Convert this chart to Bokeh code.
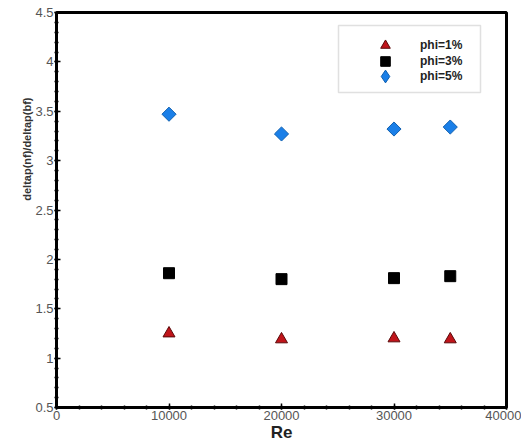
import math
from bokeh.plotting import figure
from bokeh.models import (Legend, LegendItem, SingleIntervalTicker, Title,
                          BoxAnnotation)
from bokeh.embed import file_html
from bokeh.resources import INLINE

# Reynolds numbers and pressure-drop ratios for each volume fraction
re_values = [10000, 20000, 30000, 35000]
phi1 = [1.25, 1.19, 1.20, 1.19]
phi3 = [1.86, 1.80, 1.81, 1.83]
phi5 = [3.47, 3.27, 3.32, 3.34]

series_labels = ["phi=1%", "phi=3%", "phi=5%"]
y_ticks = [0.5, 1.0, 1.5, 2.0, 2.5, 3.0, 3.5, 4.0, 4.5]
y_tick_labels = ["0.5", "1", "1.5", "2", "2.5", "3", "3.5", "4", "4.5"]

FONT = "Liberation Sans"

p = figure(frame_width=450, frame_height=395,
           x_range=(0, 40000), y_range=(0.5, 4.5),
           output_backend="svg", toolbar_location=None,
           min_border_left=56, min_border_right=15,
           min_border_top=12, min_border_bottom=36)

p.xgrid.visible = False
p.ygrid.visible = False
p.outline_line_color = "black"
p.outline_line_width = 3
p.background_fill_color = "white"
p.border_fill_color = "white"

p.xaxis.ticker = SingleIntervalTicker(interval=10000, num_minor_ticks=5)
p.yaxis.ticker = SingleIntervalTicker(interval=0.5, num_minor_ticks=5)
p.yaxis.major_label_overrides = {t: s for t, s in zip(y_ticks, y_tick_labels)}

for ax in (p.xaxis[0], p.yaxis[0]):
    ax.axis_line_width = 3
    ax.axis_line_color = "black"
    ax.major_tick_line_color = "black"
    ax.minor_tick_line_color = "black"
    ax.major_tick_line_width = 1.5
    ax.minor_tick_line_width = 1.5
    ax.major_tick_in = 4
    ax.major_tick_out = 2
    ax.minor_tick_in = 2
    ax.minor_tick_out = 2
    ax.major_label_text_font = FONT
    ax.major_label_text_font_size = "13px"
    ax.major_label_text_color = "#555555"
    ax.major_label_standoff = 1

p.xaxis.axis_label = "Re"
p.xaxis.axis_label_text_font = FONT
p.xaxis.axis_label_text_font_size = "17px"
p.xaxis.axis_label_text_font_style = "bold"
p.xaxis.axis_label_text_color = "#222222"
p.xaxis.axis_label_standoff = 0

# vertical axis title, shifted toward the top of the panel
p.add_layout(Title(text="deltap(nf)/deltap(bf)", align="right", offset=85,
                   text_font=FONT, text_font_size="11px",
                   text_font_style="bold", text_color="#333333",
                   standoff=0), "left")

r1 = p.scatter(re_values, phi1, marker="triangle", size=12,
               fill_color="#c0141a", line_color="#5a0a0a", line_width=1)
r3 = p.scatter(re_values, phi3, marker="square", size=11,
               fill_color="black", line_color="black")
# legend swatch for phi=5% (legend glyphs ignore rotation); it sits
# entirely underneath the rotated squares drawn next
r5_key = p.scatter(re_values, phi5, marker="diamond", size=10,
                   fill_color="#1a7fe8", line_color="#1060b0", line_width=1)
r5 = p.scatter(re_values, phi5, marker="square", size=10, angle=math.pi / 4,
               fill_color="#1a7fe8", line_color="#1060b0", line_width=1)

# legend frame
p.add_layout(BoxAnnotation(left=282, right=424, bottom=315, top=382,
                           left_units="screen", right_units="screen",
                           bottom_units="screen", top_units="screen",
                           fill_color="white", fill_alpha=1,
                           line_color="#999999", line_width=1.5))

# one legend per entry so the rows can sit closer than the glyph boxes
for renderer, label, centre, gh in zip((r1, r3, r5_key), series_labels,
                                       (362, 346.5, 331), (24, 24, 32)):
    p.add_layout(Legend(items=[LegendItem(label=label, renderers=[renderer])],
                        location=(329 - gh // 2, centre - gh // 2),
                        padding=0, spacing=0,
                        margin=0, glyph_width=gh, glyph_height=gh,
                        label_standoff=35 - gh // 2,
                        label_text_font=FONT, label_text_font_size="12px",
                        label_text_font_style="bold",
                        label_text_color="#222222",
                        border_line_color=None, background_fill_alpha=0),
                 "center")

open("out.html", "w").write(file_html(p, INLINE))
